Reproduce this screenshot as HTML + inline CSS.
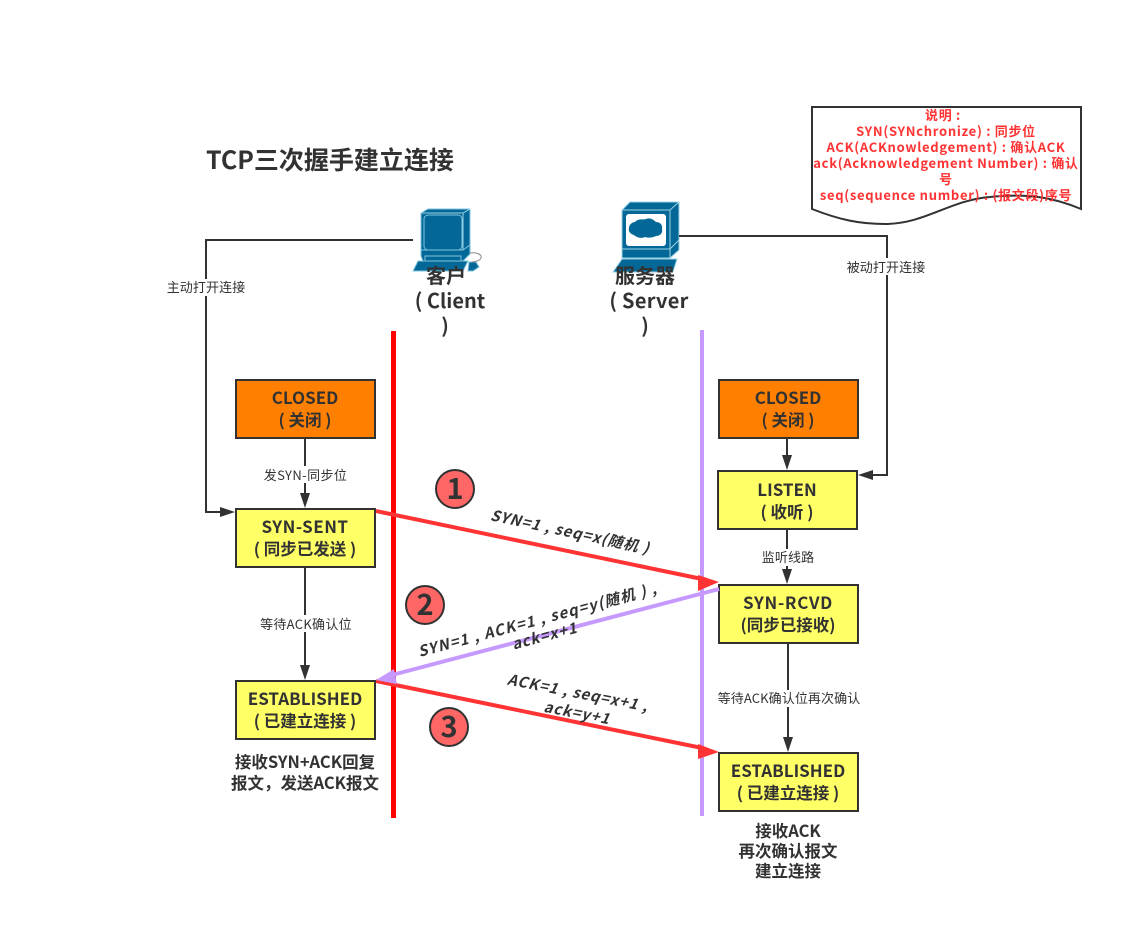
<!DOCTYPE html>
<html><head><meta charset="utf-8"><style>
html,body{margin:0;padding:0;background:#fff;width:1143px;height:938px;overflow:hidden}
svg{display:block}
text{font-family:"Noto Sans CJK SC","Liberation Sans",sans-serif;fill:#323232;white-space:pre}
.b{font-weight:700;font-size:17px;text-anchor:middle}
.h{font-weight:700;font-size:20px;text-anchor:middle}
.l{font-size:13px;text-anchor:middle;letter-spacing:.1px}
.s{font-weight:700;font-size:16.5px;text-anchor:middle}
.r{font-weight:700;font-size:13px;text-anchor:middle;fill:#ff3333;letter-spacing:.7px}
.m{font-weight:700;font-size:15px;text-anchor:middle;font-style:italic;letter-spacing:.9px}
.box{stroke:#323232;stroke-width:2}
.c{fill:none;stroke:#323232;stroke-width:2}
</style></head><body>
<svg width="1143" height="938" viewBox="0 0 1143 938" xmlns="http://www.w3.org/2000/svg">
<text x="206" y="169" style="font-weight:700;font-size:25px;">TCP三次握手建立连接</text>

<!-- note -->
<path d="M812 107H1081V209C1055 198 1030 193 990 197C950 200 925 224 885 224C860 224 840 220 812 209Z" fill="#fff" stroke="#323232" stroke-width="2"/>
<text class="r" x="943" y="120">说明 :</text>
<text class="r" x="946" y="136">SYN(SYNchronize) : 同步位</text>
<text class="r" x="946" y="152">ACK(ACKnowledgement) : 确认ACK</text>
<text class="r" x="946" y="168">ack(Acknowledgement Number) : 确认</text>
<text class="r" x="946" y="184">号</text>
<text class="r" x="946" y="200">seq(sequence number) : (报文段)序号</text>

<!-- client icon -->
<g>
<path d="M421 213L428 209H470V248L463 254H421Z" fill="#036897" stroke="#7fc4dc" stroke-width="1"/>
<path d="M463 213V254M421 213H463L470 209" fill="none" stroke="#9ed3e6" stroke-width="1"/>
<rect x="424" y="215" width="38" height="35" rx="4" fill="#036897" stroke="#7fc4dc" stroke-width="1"/>
<path d="M421 250H463L470 245V254L463 261H423L421 256Z" fill="#036897" stroke="#7fc4dc"/>
<rect x="425" y="256" width="36" height="9" fill="#036897" stroke="#7fc4dc"/>
<path d="M420 261L468 261M425 265H461" stroke="#7fc4dc" fill="none"/>
<path d="M418 261H468L463 271H413Z" fill="#036897" stroke="#7fc4dc"/>
<path d="M469 262L476 262L479 267L473 271H468Z" fill="#036897" stroke="#7fc4dc"/>
<path d="M470 253C478 252 482 255 481 258C480 261 474 262 472 262" fill="none" stroke="#888" stroke-width="1"/>
</g>
<!-- server icon -->
<g>
<path d="M622 210L630 202H679V250L670 258H622Z" fill="#036897" stroke="#9ed3e6" stroke-width="1"/>
<path d="M622 210H670L679 202M670 210V258M622 249H670L679 240" fill="none" stroke="#9ed3e6" stroke-width="1"/>
<rect x="626" y="214" width="40" height="32" rx="3" fill="#fff"/>
<path d="M635 222C638 218 644 220 646 219C650 217 654 220 656 222C660 222 663 225 662 229C663 233 660 236 656 236C652 238 648 238 645 237C641 239 636 237 634 235C630 234 628 231 629 228C629 225 632 222 635 222Z" fill="#036897"/>
<path d="M622 259H670L677 259L673 272H613Z" fill="#036897" stroke="#9ed3e6" stroke-width="1"/>
</g>
<text class="h" x="446" y="283">客户</text>
<text class="h" x="450" y="308">( Client</text>
<text class="h" x="445" y="333">)</text>
<text class="h" x="645" y="283">服务器</text>
<text class="h" x="649" y="308" style="letter-spacing:.3px">( Server</text>
<text class="h" x="645" y="333">)</text>

<!-- life lines -->
<rect x="391" y="331" width="5" height="487" fill="#ff0000"/>
<rect x="700" y="330" width="4" height="486" fill="#c699ff"/>

<!-- connectors -->
<path class="c" d="M413 240H206V512H222"/>
<path d="M235 512L220 507V517Z" fill="#323232"/>
<rect x="166" y="279" width="80" height="17" fill="#fff"/>
<text class="l" x="206" y="292">主动打开连接</text>

<path class="c" d="M679 236H887V475H872"/>
<path d="M858 475L873 470V480Z" fill="#323232"/>
<rect x="846" y="258" width="80" height="17" fill="#fff"/>
<text class="l" x="886" y="272">被动打开连接</text>

<path class="c" d="M305 438V496"/><path d="M305 508L300 493H310Z" fill="#323232"/>
<rect x="262" y="466" width="88" height="17" fill="#fff"/>
<text class="l" x="305.500" y="480" style="letter-spacing:.4px">发SYN-同步位</text>

<path class="c" d="M305 567V668"/><path d="M305 680L300 665H310Z" fill="#323232"/>
<rect x="259" y="615" width="94" height="17" fill="#fff"/>
<text class="l" x="306" y="629" style="letter-spacing:.3px">等待ACK确认位</text>

<path class="c" d="M787 438V458"/><path d="M787 470L782 455H792Z" fill="#323232"/>
<path class="c" d="M787 529V572"/><path d="M787 584L782 569H792Z" fill="#323232"/>
<rect x="760" y="549" width="56" height="17" fill="#fff"/>
<text class="l" x="788" y="562">监听线路</text>
<path class="c" d="M788 643V740"/><path d="M788 752L783 737H793Z" fill="#323232"/>
<rect x="716" y="690" width="146" height="17" fill="#fff"/>
<text class="l" x="789" y="703">等待ACK确认位再次确认</text>

<!-- boxes -->
<rect class="box" x="236" y="380" width="139" height="58" fill="#ff8000"/>
<text class="b" x="305" y="404">CLOSED</text><text class="s" x="305" y="426">( 关闭 )</text>
<rect class="box" x="236" y="509" width="139" height="58" fill="#ffff66"/>
<text class="b" x="305" y="533" style="letter-spacing:.5px">SYN-SENT</text><text class="s" x="305" y="555">( 同步已发送 )</text>
<rect class="box" x="236" y="681" width="139" height="58" fill="#ffff66"/>
<text class="b" x="305" y="705">ESTABLISHED</text><text class="s" x="305" y="727">( 已建立连接 )</text>
<rect class="box" x="719" y="380" width="139" height="58" fill="#ff8000"/>
<text class="b" x="788" y="404">CLOSED</text><text class="s" x="788" y="426">( 关闭 )</text>
<rect class="box" x="718" y="471" width="139" height="58" fill="#ffff66"/>
<text class="b" x="787" y="496">LISTEN</text><text class="s" x="787" y="518">( 收听 )</text>
<rect class="box" x="719" y="585" width="139" height="58" fill="#ffff66"/>
<text class="b" x="788" y="609" style="letter-spacing:.7px">SYN-RCVD</text><text class="s" x="788" y="631">(同步已接收)</text>
<rect class="box" x="719" y="753" width="139" height="58" fill="#ffff66"/>
<text class="b" x="788" y="777">ESTABLISHED</text><text class="s" x="788" y="799">( 已建立连接 )</text>

<!-- message arrows -->
<path d="M376 511L702 579" stroke="#ff3333" stroke-width="4" fill="none"/>
<path d="M719 582L698 575L698 591Z" fill="#ff3333"/>
<path d="M376 681L702 748" stroke="#ff3333" stroke-width="4" fill="none"/>
<path d="M719 752L698 744L698 759Z" fill="#ff3333"/>
<path d="M719 589L392 675" stroke="#c699ff" stroke-width="4" fill="none"/>
<path d="M376 680L394 669L397 684Z" fill="#c699ff"/>

<!-- numbers -->
<circle cx="455" cy="489" r="19" fill="#ff6666" stroke="#323232" stroke-width="2"/>
<text x="455" y="499" style="font-weight:700;font-size:29px;text-anchor:middle">1</text>
<circle cx="425" cy="605" r="19" fill="#ff6666" stroke="#323232" stroke-width="2"/>
<text x="425" y="615" style="font-weight:700;font-size:29px;text-anchor:middle">2</text>
<circle cx="449" cy="727" r="19" fill="#ff6666" stroke="#323232" stroke-width="2"/>
<text x="449" y="737" style="font-weight:700;font-size:29px;text-anchor:middle">3</text>

<!-- message labels -->
<text class="m" transform="translate(569 537) rotate(12)">SYN=1 , seq=x(随机 )</text>
<text class="m" transform="translate(539 625) rotate(-15)" style="letter-spacing:1.2px">SYN=1 , ACK=1 , seq=y(随机 ) ,</text>
<text class="m" transform="translate(546 641) rotate(-15)">ack=x+1</text>
<text class="m" transform="translate(577 698) rotate(11)">ACK=1 , seq=x+1 ,</text>
<text class="m" transform="translate(576 718) rotate(11)">ack=y+1</text>

<!-- captions -->
<text class="s" x="305" y="768">接收SYN+ACK回复</text>
<text class="s" x="305" y="789">报文，发送ACK报文</text>
<text class="s" x="788" y="837">接收ACK</text>
<text class="s" x="788" y="857">再次确认报文</text>
<text class="s" x="788" y="877">建立连接</text>
</svg>
</body></html>
